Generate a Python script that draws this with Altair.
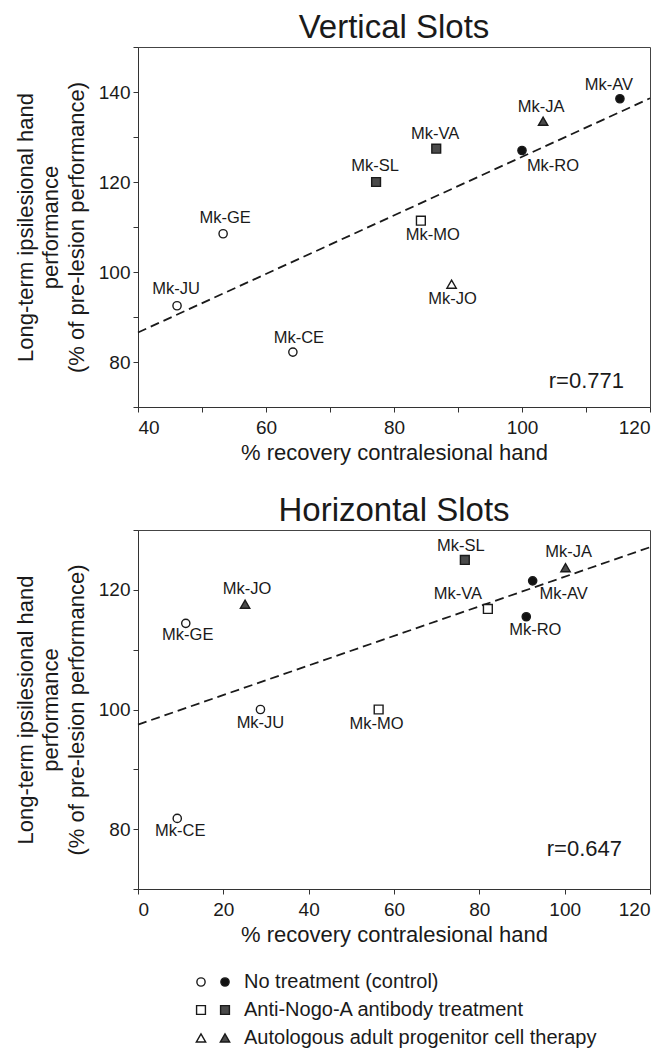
import altair as alt
import pandas as pd

FONT = "Liberation Sans"
INK = "#1a1a1a"

# ---------------- data ----------------
monkeys = ["Mk-AV", "Mk-JA", "Mk-RO", "Mk-VA", "Mk-SL", "Mk-MO", "Mk-GE", "Mk-JO", "Mk-JU", "Mk-CE"]
groups = ["control", "cell", "control", "nogo", "nogo", "nogo", "control", "cell", "control", "control"]

# Vertical slots
vert_x = [115.3, 103.3, 100.0, 86.6, 77.2, 84.2, 53.3, 89.0, 46.1, 64.2]
vert_y = [138.5, 133.5, 127.0, 127.4, 120.0, 111.4, 108.5, 97.3, 92.5, 82.2]
vert_state = ["filled", "filled", "filled", "filled", "filled", "open", "open", "open", "open", "open"]
vert_r = "r=0.771"

# Horizontal slots
horz_x = [92.5, 100.2, 91.0, 82.0, 76.6, 56.4, 11.2, 25.1, 28.7, 9.2]
horz_y = [121.5, 123.7, 115.5, 116.8, 125.0, 100.0, 114.4, 117.6, 100.0, 81.8]
horz_state = ["filled", "filled", "filled", "open", "filled", "open", "open", "filled", "open", "open"]
horz_r = "r=0.647"

legend_groups = ["control", "nogo", "cell"]
legend_labels = ["No treatment (control)", "Anti-Nogo-A antibody treatment",
                 "Autologous adult progenitor cell therapy"]
legend_states = ["open", "filled"]

x_title = "% recovery contralesional hand"
y_title = ["Long-term ipsilesional hand", "performance", "(% of pre-lesion performance)"]

# ---------------- styling ----------------
VERT_OFFSETS = {"Mk-AV": (-11, -14), "Mk-JA": (-2, -14), "Mk-RO": (31, 15), "Mk-VA": (-1, -15),
                "Mk-SL": (-1, -16), "Mk-MO": (12, 14), "Mk-GE": (2, -16), "Mk-JO": (1, 15),
                "Mk-JU": (-1, -17), "Mk-CE": (6, -14)}
HORZ_OFFSETS = {"Mk-SL": (-4, -14), "Mk-JA": (3, -16), "Mk-AV": (31, 13), "Mk-VA": (-30, -15),
                "Mk-RO": (9, 13), "Mk-JO": (2, -15), "Mk-GE": (2, 12), "Mk-JU": (0, 13),
                "Mk-MO": (-2, 14), "Mk-CE": (3, 13)}

shape_scale = alt.Scale(domain=["control", "nogo", "cell"], range=["circle", "square", "triangle-up"])
size_scale = alt.Scale(domain=["control", "nogo", "cell"], range=[68, 88, 200])
fill_scale = alt.Scale(
    domain=["control|open", "control|filled", "nogo|open", "nogo|filled", "cell|open", "cell|filled"],
    range=["#ffffff", "#111111", "#ffffff", "#4a4a4a", "#ffffff", "#4a4a4a"])

W = 512
label_expr = "datum.value % 20 === 0 ? datum.label : ''"


def panel(xs, ys, states, title, xdom, xticks, ydom, yticks, offsets, rtext, r_off, height):
    df = pd.DataFrame({"name": monkeys, "group": groups, "state": states, "x": xs, "y": ys})
    base = alt.Chart(df)
    X = alt.X("x:Q", scale=alt.Scale(domain=xdom, nice=False, zero=False),
              axis=alt.Axis(values=xticks, labelExpr=label_expr, title=x_title,
                            labelPadding=6, titlePadding=5))
    Y = alt.Y("y:Q", scale=alt.Scale(domain=ydom, nice=False, zero=False),
              axis=alt.Axis(values=yticks, labelExpr=label_expr, title=y_title,
                            labelPadding=3, titlePadding=10, titleLineHeight=25.5))

    reg = base.transform_regression("x", "y", extent=xdom).mark_line(
        color=INK, strokeWidth=1.8, strokeDash=[9, 5]).encode(x=X, y=Y)

    pts = base.transform_calculate(key="datum.group + '|' + datum.state").mark_point(
        filled=True, opacity=1, stroke=INK, strokeWidth=1.4).encode(
        x=X, y=Y,
        shape=alt.Shape("group:N", scale=shape_scale, legend=None),
        size=alt.Size("group:N", scale=size_scale, legend=None),
        fill=alt.Fill("key:N", scale=fill_scale, legend=None))

    labels = []
    for n in monkeys:
        dx, dy = offsets[n]
        labels.append(base.transform_filter(alt.datum.name == n).mark_text(
            dx=dx, dy=dy, font=FONT, fontSize=16.5, color=INK).encode(x=X, y=Y, text="name:N"))

    rchart = alt.Chart(pd.DataFrame({"r": [rtext]})).mark_text(
        align="right", baseline="middle", font=FONT, fontSize=22, color=INK).encode(
        x=alt.value(W - r_off[0]), y=alt.value(height - r_off[1]), text="r:N")

    return alt.layer(reg, pts, *labels, rchart).properties(
        width=W, height=height,
        title=alt.TitleParams(text=title, font=FONT, fontSize=33, fontWeight="normal",
                              color=INK, offset=2))


top = panel(vert_x, vert_y, vert_state, "Vertical Slots", [40, 120], list(range(40, 121, 10)),
            [70, 150], list(range(70, 151, 10)), VERT_OFFSETS, vert_r, (26, 26), 360)
bottom = panel(horz_x, horz_y, horz_state, "Horizontal Slots", [0, 120], list(range(0, 121, 20)),
               [70, 130], list(range(70, 131, 10)), HORZ_OFFSETS, horz_r, (28, 40), 359)

# ---------------- custom legend ----------------
leg_rows = []
for g in legend_groups:
    for s in legend_states:
        leg_rows.append({"group": g, "state": s})
leg_sym = pd.DataFrame(leg_rows)
leg_txt = pd.DataFrame({"group": legend_groups, "label": legend_labels})

LX = alt.X("state:N", scale=alt.Scale(type="point", domain=legend_states, range=[63, 87], padding=0),
           axis=None)
LY = alt.Y("group:N", scale=alt.Scale(type="point", domain=legend_groups, range=[-30, 26], padding=0),
           axis=None)

leg_points = alt.Chart(leg_sym).transform_calculate(key="datum.group + '|' + datum.state").mark_point(
    filled=True, opacity=1, stroke=INK, strokeWidth=1.4).encode(
    x=LX, y=LY,
    shape=alt.Shape("group:N", scale=shape_scale, legend=None),
    size=alt.Size("group:N", scale=size_scale, legend=None),
    fill=alt.Fill("key:N", scale=fill_scale, legend=None))
leg_text = alt.Chart(leg_txt).transform_calculate(state="'filled'").mark_text(
    align="left", baseline="middle", dx=19, font=FONT, fontSize=20, color=INK).encode(
    x=LX, y=LY, text="label:N")

legend = alt.layer(leg_points, leg_text).properties(
    width=W, height=10, view=alt.ViewBackground(stroke="transparent"))

chart = alt.vconcat(top, bottom, legend, spacing=123, bounds="flush",
                    padding={"left": 5, "top": 3, "right": 5, "bottom": 0}).configure_view(
    stroke="#444444", strokeWidth=1).configure_axis(
    grid=False, domainColor="#333333", tickColor="#333333", tickSize=5,
    labelFont=FONT, labelFontSize=19, labelColor=INK,
    titleFont=FONT, titleFontSize=22, titleFontWeight="normal", titleColor=INK)

chart.save("out.html", embed_options={"renderer": "svg", "actions": False})
